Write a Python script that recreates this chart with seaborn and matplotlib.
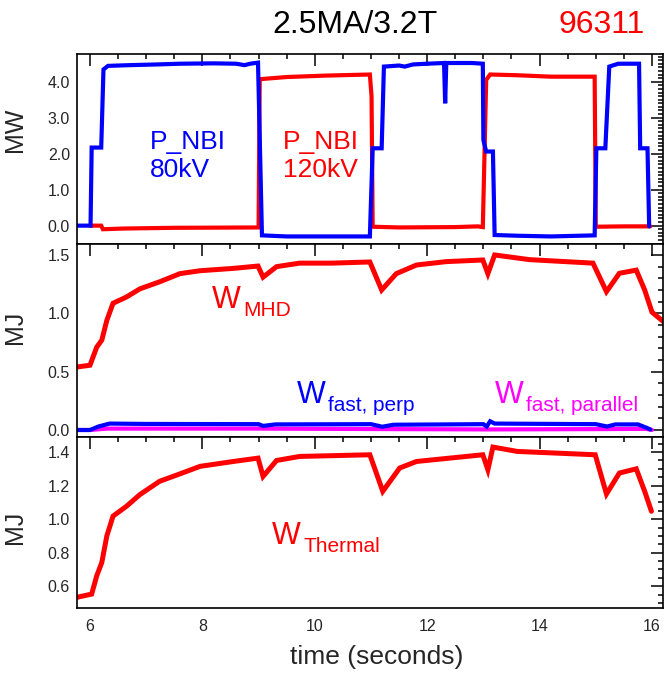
import matplotlib
matplotlib.use("Agg")
import matplotlib.pyplot as plt
from matplotlib.ticker import MultipleLocator, FormatStrFormatter
import seaborn as sns
import pandas as pd

# ---------------- data ----------------
nbi80_t = [5.77, 6.01, 6.03, 6.20, 6.24, 6.32, 6.7, 7.2, 7.6, 8.2, 8.6, 8.75, 8.85, 8.99,
           9.06, 9.5, 10.2, 10.98, 11.03, 11.19, 11.23, 11.5, 11.6, 11.75, 12.0, 12.30,
           12.32, 12.34, 12.8, 12.99, 13.00, 13.05, 13.17, 13.20, 13.6, 14.2, 14.98, 15.01,
           15.17, 15.24, 15.4, 15.77, 15.79, 15.92, 15.95]
nbi80_v = [0.0, 0.0, 2.17, 2.17, 4.34, 4.44, 4.46, 4.48, 4.50, 4.51, 4.50, 4.46, 4.50, 4.53,
           -0.27, -0.30, -0.30, -0.30, 2.15, 2.15, 4.42, 4.45, 4.42, 4.48, 4.50, 4.52,
           3.40, 4.52, 4.52, 4.50, 2.38, 2.06, 2.06, -0.26, -0.28, -0.30, -0.27, 2.15,
           2.15, 4.42, 4.50, 4.50, 2.15, 2.15, -0.02]

nbi120_t = [6.00, 6.20, 6.23, 6.6, 7.5, 9.00, 9.02, 9.5, 10.2, 10.98, 11.01, 11.03, 11.5,
            12.5, 12.9, 12.99, 13.05, 13.12, 13.6, 14.2, 14.98, 15.00, 15.5, 15.8, 15.97]
nbi120_v = [0.0, 0.0, -0.10, -0.08, -0.06, -0.05, 4.07, 4.13, 4.17, 4.20, 3.60, -0.03, -0.05,
            -0.04, -0.02, -0.04, 4.05, 4.20, 4.18, 4.14, 4.14, -0.03, -0.02, -0.02, -0.02]

wmhd_t = [5.77, 6.00, 6.12, 6.21, 6.30, 6.41, 6.65, 6.89, 7.24, 7.6, 7.96, 8.55, 8.99, 9.08,
          9.32, 9.73, 10.3, 10.98, 11.19, 11.45, 11.81, 12.34, 12.99, 13.08, 13.2, 13.82,
          14.95, 15.19, 15.42, 15.72, 15.87, 16.0, 16.2]
wmhd_v = [0.54, 0.555, 0.71, 0.77, 0.94, 1.086, 1.14, 1.21, 1.27, 1.34, 1.365, 1.385, 1.405,
          1.31, 1.40, 1.43, 1.43, 1.44, 1.20, 1.34, 1.414, 1.443, 1.457, 1.34, 1.50, 1.46,
          1.43, 1.186, 1.343, 1.37, 1.20, 1.01, 0.93]

wperp_t = [5.77, 6.0, 6.15, 6.35, 7.0, 9.0, 9.08, 9.3, 11.0, 11.2, 11.4, 13.0, 13.06, 13.12,
           13.2, 15.0, 15.2, 15.35, 15.75, 15.9, 15.97]
wperp_v = [0.0, 0.0, 0.03, 0.055, 0.052, 0.05, 0.035, 0.048, 0.05, 0.028, 0.045, 0.05, 0.03,
           0.075, 0.055, 0.05, 0.03, 0.048, 0.048, 0.02, 0.005]

wpar_t = [5.77, 6.0, 6.3, 9.0, 11.2, 13.1, 15.2, 15.9, 16.0]
wpar_v = [0.0, 0.0, 0.012, 0.012, 0.008, 0.005, 0.008, 0.01, 0.0]

wth_t = [5.77, 6.03, 6.12, 6.21, 6.30, 6.41, 6.65, 6.89, 7.24, 7.6, 7.96, 8.55, 8.99, 9.08,
         9.32, 9.73, 10.98, 11.21, 11.51, 11.81, 12.4, 12.99, 13.08, 13.17, 13.6, 14.99,
         15.19, 15.42, 15.72, 15.87, 15.99]
wth_v = [0.534, 0.553, 0.662, 0.741, 0.90, 1.018, 1.077, 1.147, 1.226, 1.27, 1.315, 1.344,
         1.364, 1.255, 1.35, 1.374, 1.384, 1.166, 1.305, 1.344, 1.364, 1.384, 1.295, 1.43,
         1.404, 1.384, 1.15, 1.275, 1.30, 1.166, 1.047]

title_left = "2.5MA/3.2T"
title_right = "96311"

# ---------------- style ----------------
sns.set_style("white")
plt.rcParams['font.family'] = ['Liberation Sans', 'DejaVu Sans']
plt.rcParams['axes.linewidth'] = 1.2
RED = "#ff0000"
BLUE = "#0000ff"
MAG = "#ff00ff"

fig = plt.figure(figsize=(6.64, 6.75), dpi=100)
L, W = 77 / 664, (663 - 77) / 664
ax1 = fig.add_axes([L, 1 - 244 / 675, W, 190 / 675])
ax2 = fig.add_axes([L, 1 - 437 / 675, W, 193 / 675])
ax3 = fig.add_axes([L, 1 - 608 / 675, W, 171 / 675])


def line(ax, t, v, color, lw):
    df = pd.DataFrame({"t": t, "v": v})
    sns.lineplot(data=df, x="t", y="v", ax=ax, color=color, lw=lw,
                 sort=False, estimator=None, solid_joinstyle='miter')


line(ax1, nbi120_t, nbi120_v, RED, 3.0)
line(ax1, nbi80_t, nbi80_v, BLUE, 3.0)
line(ax2, wmhd_t, wmhd_v, RED, 3.6)
line(ax2, wpar_t, wpar_v, MAG, 3.0)
line(ax2, wperp_t, wperp_v, BLUE, 3.0)
line(ax3, wth_t, wth_v, RED, 3.6)

ylims = [(-0.51, 4.77), (-0.06, 1.594), (0.47, 1.49)]
ymaj = [1.0, 0.5, 0.2]
ymin = [0.1, 0.1, 0.05]
for ax, yl, mj, mn in zip([ax1, ax2, ax3], ylims, ymaj, ymin):
    ax.set_xlim(5.769, 16.196)
    ax.set_ylim(*yl)
    ax.xaxis.set_major_locator(MultipleLocator(2))
    ax.xaxis.set_minor_locator(MultipleLocator(0.5))
    ax.yaxis.set_major_locator(MultipleLocator(mj))
    ax.yaxis.set_minor_locator(MultipleLocator(mn))
    ax.yaxis.set_major_formatter(FormatStrFormatter('%.1f'))
    ax.tick_params(which='both', direction='in', top=True, right=True,
                   color='black', width=1.1)
    ax.tick_params(which='major', length=8.5, labelsize=11.5, pad=5)
    ax.tick_params(which='minor', length=3.8)
    ax.tick_params(axis='x', which='major', pad=8)
    for s in ax.spines.values():
        s.set_color('black')
    ax.set_xlabel("")
    ax.set_ylabel("")

ax1.tick_params(axis='x', labelbottom=False)
ax2.tick_params(axis='x', labelbottom=False)

ax1.set_ylabel("MW", fontsize=18)
ax2.set_ylabel("MJ", fontsize=18)
ax3.set_ylabel("MJ", fontsize=18)
ax1.yaxis.set_label_coords(-0.085, 0.60)
ax2.yaxis.set_label_coords(-0.085, 0.57)
ax3.yaxis.set_label_coords(-0.085, 0.47)
ax3.set_xlabel("time (seconds)", fontsize=19)
ax3.xaxis.set_label_coords(0.511, -0.215)

# annotations (baseline refers to the last line of the two-line labels)
ax1.text(7.07, 1.35, "P_NBI\n80kV", color=BLUE, fontsize=19, ha='left',
         va='baseline', linespacing=1.2, multialignment='left')
ax1.text(9.43, 1.35, "P_NBI\n120kV", color=RED, fontsize=19, ha='left',
         va='baseline', linespacing=1.2, multialignment='left')


def wlabel(ax, x, y, sub, color):
    ax.text(x, y, "W", color=color, fontsize=22, ha='left', va='baseline')
    ax.annotate(sub, xy=(x, y), xytext=(22.5, -5.5), textcoords='offset points',
                color=color, fontsize=15, ha='left', va='baseline')


wlabel(ax2, 8.17, 1.046, "MHD", RED)
wlabel(ax2, 9.68, 0.232, "fast, perp", BLUE)
wlabel(ax2, 13.21, 0.232, "fast, parallel", MAG)
wlabel(ax3, 9.24, 0.85, "Thermal", RED)

fig.text(354.5 / 664, 1 - 33 / 675, title_left, fontsize=23, ha='center',
         va='baseline', color='black')
fig.text(645 / 664, 1 - 33 / 675, title_right, fontsize=23, ha='right',
         va='baseline', color=RED)

fig.savefig("out.png", dpi=100)
